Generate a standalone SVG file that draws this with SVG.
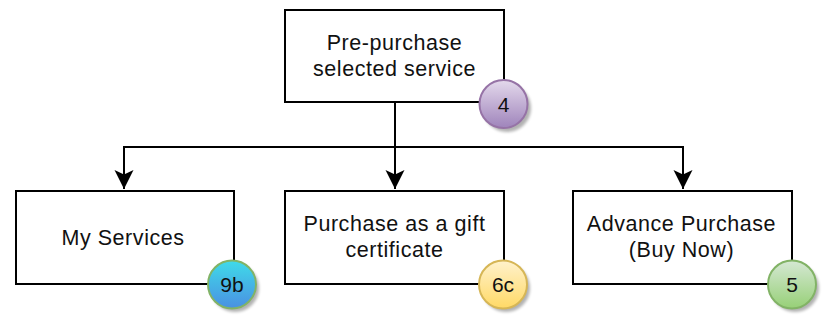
<svg xmlns="http://www.w3.org/2000/svg" width="831" height="324" viewBox="0 0 831 324">
<style>
.box{fill:#fff;stroke:#000;stroke-width:2}
.lbl{font-family:"Liberation Sans",Arial,Helvetica,sans-serif;font-size:21.5px;letter-spacing:0.55px;fill:#111;text-anchor:middle}
.bt{font-family:"Liberation Sans",Arial,Helvetica,sans-serif;font-size:21px;fill:#111;text-anchor:middle}
.edge{fill:none;stroke:#000;stroke-width:2}
.sh{fill:#000;opacity:0.3;filter:url(#blur)}
</style>
<defs>
<filter id="blur" x="-50%" y="-50%" width="200%" height="200%"><feGaussianBlur stdDeviation="1.5"/></filter>
<marker id="arr" markerUnits="userSpaceOnUse" markerWidth="22" markerHeight="22" viewBox="0 0 22 22" refX="19" refY="11" orient="auto">
<path d="M0,1.5 L19,11 L0,20.5 L4.5,11 Z" fill="#000"/>
</marker>
<linearGradient id="gP" x1="0" y1="0" x2="0" y2="1"><stop offset="0" stop-color="#e4d9ec"/><stop offset="1" stop-color="#9f84bb"/></linearGradient>
<linearGradient id="gB" x1="0" y1="0" x2="0" y2="1"><stop offset="0" stop-color="#3fdbe9"/><stop offset="1" stop-color="#4a90e2"/></linearGradient>
<linearGradient id="gY" x1="0" y1="0" x2="0" y2="1"><stop offset="0" stop-color="#fff2cc"/><stop offset="1" stop-color="#ffd966"/></linearGradient>
<linearGradient id="gG" x1="0" y1="0" x2="0" y2="1"><stop offset="0" stop-color="#d5e8d4"/><stop offset="1" stop-color="#97d077"/></linearGradient>
</defs>
<g id="connectors">
<path class="edge" d="M395,103 V147 H124 V189" marker-end="url(#arr)"/>
<path class="edge" d="M395,103 V189" marker-end="url(#arr)"/>
<path class="edge" d="M395,147 H683 V189" marker-end="url(#arr)"/>
</g>
<g id="node-prepurchase">
<rect class="box" x="285" y="10" width="219" height="92"/>
<text class="lbl" x="394.5" y="50">Pre-purchase</text>
<text class="lbl" x="394.5" y="76">selected service</text>
</g>
<g id="node-myservices">
<rect class="box" x="16" y="191" width="218" height="93"/>
<text class="lbl" x="123" y="244.5">My Services</text>
</g>
<g id="node-gift">
<rect class="box" x="285" y="191" width="219" height="93"/>
<text class="lbl" x="394.5" y="231">Purchase as a gift</text>
<text class="lbl" x="394.5" y="257">certificate</text>
</g>
<g id="node-advance">
<rect class="box" x="573" y="191" width="219" height="93"/>
<text class="lbl" x="681.5" y="231">Advance Purchase</text>
<text class="lbl" x="681.5" y="257">(Buy Now)</text>
</g>
<g id="badge-4">
<circle class="sh" cx="507" cy="108" r="24"/>
<circle cx="503.5" cy="104" r="24" fill="url(#gP)" stroke="#9673a6" stroke-width="2"/>
<text class="bt" x="503.5" y="111.5">4</text>
</g>
<g id="badge-9b">
<circle class="sh" cx="235" cy="288" r="24"/>
<circle cx="232" cy="284.5" r="24" fill="url(#gB)" stroke="#82b366" stroke-width="2"/>
<text class="bt" x="232" y="292">9b</text>
</g>
<g id="badge-6c">
<circle class="sh" cx="506" cy="288" r="24"/>
<circle cx="503" cy="284.5" r="24" fill="url(#gY)" stroke="#d6b656" stroke-width="2"/>
<text class="bt" x="503" y="292">6c</text>
</g>
<g id="badge-5">
<circle class="sh" cx="795" cy="288" r="24"/>
<circle cx="792" cy="284.5" r="24" fill="url(#gG)" stroke="#82b366" stroke-width="2"/>
<text class="bt" x="792" y="292">5</text>
</g>
</svg>
